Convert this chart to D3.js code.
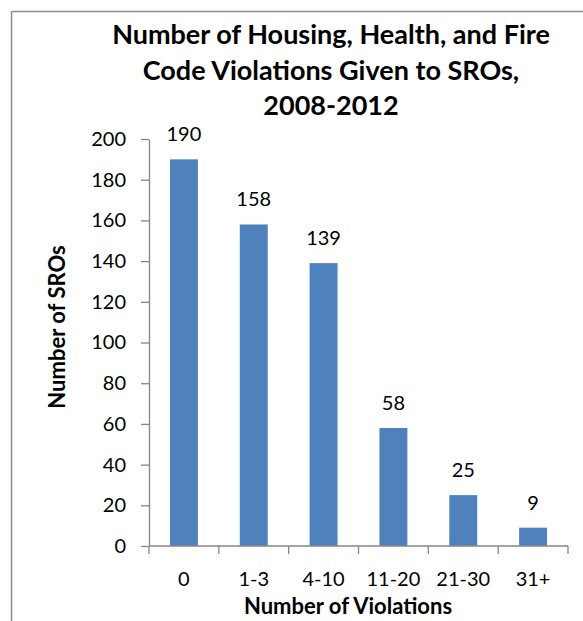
<!DOCTYPE html>
<html>
<head>
<meta charset="utf-8">
<script src="https://cdn.jsdelivr.net/npm/d3@7"></script>
<style>
  html, body { margin: 0; padding: 0; background: #fff; }
  svg { display: block; font-family: Lato, "Open Sans", sans-serif; }
</style>
</head>
<body>
<svg id="chart" width="583" height="621"></svg>
<script>
const categories = ["0", "1-3", "4-10", "11-20", "21-30", "31+"];
const values = [190, 158, 139, 58, 25, 9];
const yTicks = [0, 20, 40, 60, 80, 100, 120, 140, 160, 180, 200];
const titleLines = ["Number of Housing, Health, and Fire", "Code Violations Given to SROs,", "2008-2012"];
const xTitle = "Number of Violations";
const yTitle = "Number of SROs";

const svg = d3.select("#chart");
const plotL = 149, plotR = 568, plotT = 139, plotB = 546;
const axisColor = "#868686";

// frame border (top and left)
svg.append("line").attr("x1", 11.5).attr("x2", 583).attr("y1", 11.5).attr("y2", 11.5)
  .attr("stroke", "#8c8c8c").attr("stroke-width", 1.5);
svg.append("line").attr("x1", 11.5).attr("x2", 11.5).attr("y1", 11.5).attr("y2", 621)
  .attr("stroke", "#8c8c8c").attr("stroke-width", 1.5);

const x = d3.scaleBand().domain(categories).range([plotL, plotR]).paddingInner(0.6).paddingOuter(0.3);
const y = d3.scaleLinear().domain([0, 200]).range([plotB, plotT]);

// title
const title = svg.append("text").attr("text-anchor", "middle")
  .attr("font-weight", "bold").attr("font-size", 27).attr("fill", "#000");
titleLines.forEach((t, i) => {
  title.append("tspan").attr("x", 331).attr("y", 44 + i * 35.5).text(t);
});

// bars
svg.append("g").selectAll("rect").data(values).join("rect")
  .attr("x", (d, i) => x(categories[i]))
  .attr("width", x.bandwidth())
  .attr("y", d => y(d))
  .attr("height", d => y(0) - y(d))
  .attr("fill", "#4F81BD");

// data labels
svg.append("g").selectAll("text").data(values).join("text")
  .attr("x", (d, i) => x(categories[i]) + x.bandwidth() / 2)
  .attr("y", d => y(d) - 18)
  .attr("text-anchor", "middle")
  .attr("font-size", 20).attr("fill", "#000")
  .text(d => d);

// y axis
const yAxis = svg.append("g").attr("transform", `translate(${plotL},0)`)
  .call(d3.axisLeft(y).tickValues(yTicks).tickSize(8).tickSizeOuter(0).tickPadding(15));
yAxis.select(".domain").attr("stroke", axisColor).attr("stroke-width", 1.3);
yAxis.selectAll(".tick line").attr("stroke", axisColor).attr("stroke-width", 1.3);
yAxis.selectAll(".tick text").attr("font-size", 20).attr("fill", "#000").attr("font-family", "Lato");

// x axis
const xEdges = d3.scaleLinear().domain([0, categories.length]).range([plotL, plotR]);
const xAxis = svg.append("g").attr("transform", `translate(0,${plotB})`);
xAxis.append("line").attr("x1", plotL).attr("x2", plotR).attr("stroke", axisColor).attr("stroke-width", 1.3);
xAxis.selectAll("line.tk").data(d3.range(categories.length + 1)).join("line").attr("class", "tk")
  .attr("x1", d => xEdges(d)).attr("x2", d => xEdges(d)).attr("y1", 0).attr("y2", 8)
  .attr("stroke", axisColor).attr("stroke-width", 1.3);
xAxis.selectAll("text").data(categories).join("text")
  .attr("x", d => x(d) + x.bandwidth() / 2).attr("y", 39.5)
  .attr("text-anchor", "middle").attr("font-size", 20).attr("fill", "#000")
  .text(d => d);

// axis titles
svg.append("text").attr("x", 348).attr("y", 614).attr("text-anchor", "middle")
  .attr("font-weight", "bold").attr("font-size", 22).attr("fill", "#000").text(xTitle);
svg.append("text").attr("transform", "translate(65,327) rotate(-90)").attr("text-anchor", "middle")
  .attr("font-weight", "bold").attr("font-size", 22).attr("fill", "#000").text(yTitle);
</script>
</body>
</html>
